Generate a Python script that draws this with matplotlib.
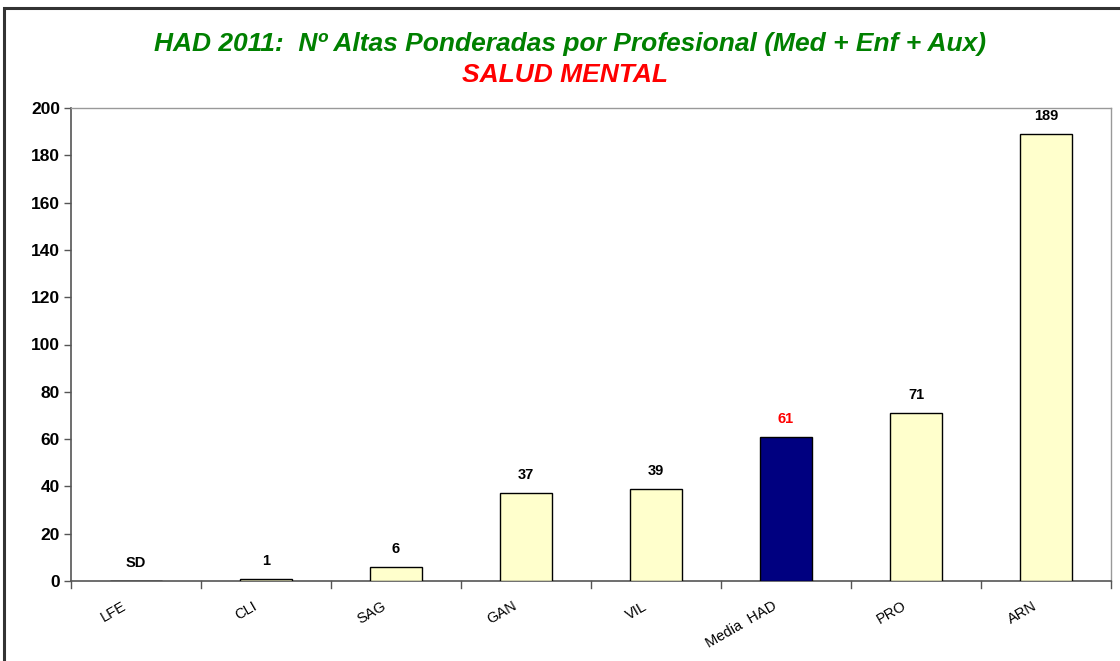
import matplotlib
matplotlib.use("Agg")
import matplotlib.pyplot as plt
from matplotlib.patches import Rectangle
from matplotlib.transforms import ScaledTranslation
import numpy as np

plt.rcParams['font.family'] = ['Liberation Sans', 'DejaVu Sans']

categories = ["LFE", "CLI", "SAG", "GAN", "VIL", "Media  HAD", "PRO", "ARN"]
values = [None, 1, 6, 37, 39, 61, 71, 189]
value_labels = ["SD", "1", "6", "37", "39", "61", "71", "189"]
highlight = "Media  HAD"
y_ticks = [0, 20, 40, 60, 80, 100, 120, 140, 160, 180, 200]

fig = plt.figure(figsize=(11.2, 6.61), dpi=100)
W, H = 1120, 661

# outer chart frame
fig.patches.append(Rectangle((4 / W, -0.1), 1.2, (H - 7.5) / H + 0.1,
                             transform=fig.transFigure, fill=False,
                             edgecolor="#333333", linewidth=2.2))

ax = fig.add_axes([71 / W, 1 - 581 / H, (1111 - 71) / W, (581 - 108) / H])

x = np.arange(len(categories))
heights = [0 if v is None else v for v in values]
colors = ["#000080" if c == highlight else "#FFFFCC" for c in categories]
ax.bar(x, heights, width=0.4, color=colors, edgecolor="black", linewidth=1.0,
       zorder=3)

for xi, h, lab, c in zip(x, heights, value_labels, categories):
    ax.annotate(lab, (xi, h), xytext=(0, 13), textcoords="offset points",
                ha="center", va="center", fontsize=10.5, fontweight="bold",
                color="red" if c == highlight else "black")

ax.set_xlim(-0.5, len(categories) - 0.5)
ax.set_ylim(0, 200)
ax.set_yticks(y_ticks)
ax.set_yticklabels([str(t) for t in y_ticks], fontsize=12.5, fontweight="bold")
ax.tick_params(axis="y", length=5, width=1, color="#555555", pad=3)

ax.set_xticks(x)
ax.set_xticklabels(categories, rotation=30, fontsize=10.5, ha="right",
                   rotation_mode="anchor")
ax.tick_params(axis="x", length=0, pad=13)
shift = ScaledTranslation(-14 / 100, 0, fig.dpi_scale_trans)
for lbl in ax.get_xticklabels():
    lbl.set_transform(lbl.get_transform() + shift)
for b in np.arange(len(categories) + 1) - 0.5:
    ax.plot([b, b], [0, -3], color="#555555", linewidth=1, clip_on=False,
            zorder=4)

for side in ("left", "bottom"):
    ax.spines[side].set_color("#555555")
    ax.spines[side].set_linewidth(1.2)
for side in ("top", "right"):
    ax.spines[side].set_color("#999999")
    ax.spines[side].set_linewidth(1.0)

fig.text(570 / W, 1 - 44 / H,
         "HAD 2011:  Nº Altas Ponderadas por Profesional (Med + Enf + Aux)",
         ha="center", va="center", fontsize=19, fontweight="bold",
         fontstyle="italic", color="#008000")
fig.text(565 / W, 1 - 75 / H, "SALUD MENTAL", ha="center", va="center",
         fontsize=19, fontweight="bold", fontstyle="italic", color="#FF0000")

fig.savefig("out.png", dpi=100)
